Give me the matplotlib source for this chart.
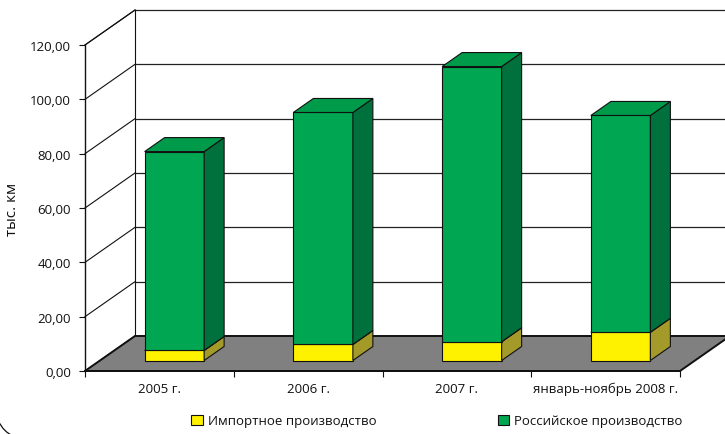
import matplotlib
matplotlib.use("Agg")
import matplotlib.pyplot as plt
from matplotlib.patches import Polygon, Patch, Arc
from matplotlib.transforms import IdentityTransform

# ---- data ----
categories = ['2005 г.', '2006 г.', '2007 г.', 'январь-ноябрь 2008 г.']
import_vals = [3.7, 5.9, 6.9, 10.4]
russian_vals = [73.2, 85.4, 101.3, 79.8]
yticks = [0, 20, 40, 60, 80, 100, 120]
ytick_labels = ['0,00', '20,00', '40,00', '60,00', '80,00', '100,00', '120,00']
series_names = ['Импортное производство', 'Российское производство']

plt.rcParams['font.family'] = ['Open Sans', 'DejaVu Sans']
TXT = '#111111'

W, H = 725, 435
fig = plt.figure(figsize=(W / 100, H / 100), dpi=100)
fig.patch.set_facecolor('white')

# front plane in pixels: x 85..680, y 372..46
ax = fig.add_axes([85 / W, (H - 372) / H, (680 - 85) / W, (372 - 46) / H])
ax.set_xlim(0, len(categories))
ax.set_ylim(0, 120)
ax.set_facecolor('none')

# depth offset (data units) corresponding to (50px, -35px)
px_x = (680 - 85) / len(categories)
px_y = (372 - 46) / 120
DX = 50 / px_x
DY = 35 / px_y

n = len(categories)
LW = 0.8

# back wall gridlines
for v in yticks:
    ax.plot([DX, n + DX + 0.5], [v + DY, v + DY], color='#222222', lw=0.9,
            clip_on=False, zorder=0.5)
    # side wall diagonals
    ax.plot([0, DX], [v, v + DY], color='#111111', lw=LW, clip_on=False, zorder=0.6)
# back wall left edge
ax.plot([DX, DX], [DY, 120 + DY], color='#111111', lw=LW, clip_on=False, zorder=0.6)

# floor
floor = Polygon([(0, 0), (n, 0), (n + DX, DY), (DX, DY)], closed=True,
                facecolor='#808080', edgecolor='#111111', lw=1.4,
                clip_on=False, zorder=1)
ax.add_patch(floor)

# bars
bw = 0.4
d0, d1 = 0.3, 0.7
bdx, bdy = (d1 - d0) * DX, (d1 - d0) * DY
styles = [
    dict(front='#fff200', side='#a39a2a', top='#e6d800'),
    dict(front='#00a651', side='#00713c', top='#009a4b'),
]
for i in range(n):
    base = 0.0
    for val, st in zip([import_vals[i], russian_vals[i]], styles):
        x0 = i + (1 - bw) / 2 + d0 * DX
        y0 = base + d0 * DY
        x1 = x0 + bw
        y1 = y0 + val
        kw = dict(closed=True, edgecolor='#111111', lw=LW, clip_on=False,
                  joinstyle='miter')
        ax.add_patch(Polygon([(x0, y0), (x1, y0), (x1, y1), (x0, y1)],
                             facecolor=st['front'], zorder=3, **kw))
        ax.add_patch(Polygon([(x1, y0), (x1 + bdx, y0 + bdy), (x1 + bdx, y1 + bdy), (x1, y1)],
                             facecolor=st['side'], zorder=3, **kw))
        ax.add_patch(Polygon([(x0, y1), (x1, y1), (x1 + bdx, y1 + bdy), (x0 + bdx, y1 + bdy)],
                             facecolor=st['top'], zorder=3, **kw))
        base += val

# top diagonal
ax.plot([0, DX], [120, 120 + DY], color='#111111', lw=LW, clip_on=False, zorder=0.6)

# axes / spines
for s in ['top', 'right']:
    ax.spines[s].set_visible(False)
ax.spines['left'].set_color('#111111')
ax.spines['left'].set_linewidth(1.0)
ax.spines['bottom'].set_color('#111111')
ax.spines['bottom'].set_linewidth(1.4)
ax.spines['bottom'].set_zorder(2)

ax.set_yticks(yticks)
ax.set_yticklabels(ytick_labels)
ax.tick_params(axis='y', direction='out', length=4, width=0.8, colors='#111111',
               labelcolor=TXT, labelsize=9.5, pad=6)

ax.set_xticks(range(n + 1))
ax.set_xticklabels([])
ax.tick_params(axis='x', which='major', direction='out', length=4, width=0.8,
               colors='#111111')
ax.set_xticks([i + 0.5 for i in range(n)], minor=True)
ax.set_xticklabels(categories, minor=True)
ax.tick_params(axis='x', which='minor', length=0, labelsize=9.5, labelcolor=TXT, pad=8)

ax.set_ylabel('тыс. км', fontsize=11, color=TXT, labelpad=7)

# legend
handles = [Patch(facecolor=styles[0]['front'], edgecolor='#111111', lw=0.8),
           Patch(facecolor=styles[1]['front'], edgecolor='#111111', lw=0.8)]
fig.legend(handles, series_names, loc='center', bbox_to_anchor=(437 / W, (H - 422) / H),
           ncol=2, frameon=False, fontsize=9.5, handlelength=0.85, handleheight=0.85,
           handletextpad=0.4, columnspacing=9.2, labelcolor=TXT)

# outer rounded border of the chart area (only its lower-left corner is visible)
corner = Arc((26, H - 410), 60, 60, theta1=180, theta2=270,
             transform=IdentityTransform(), color='#111111', lw=0.9)
fig.add_artist(corner)

fig.savefig('out.png', dpi=100)
